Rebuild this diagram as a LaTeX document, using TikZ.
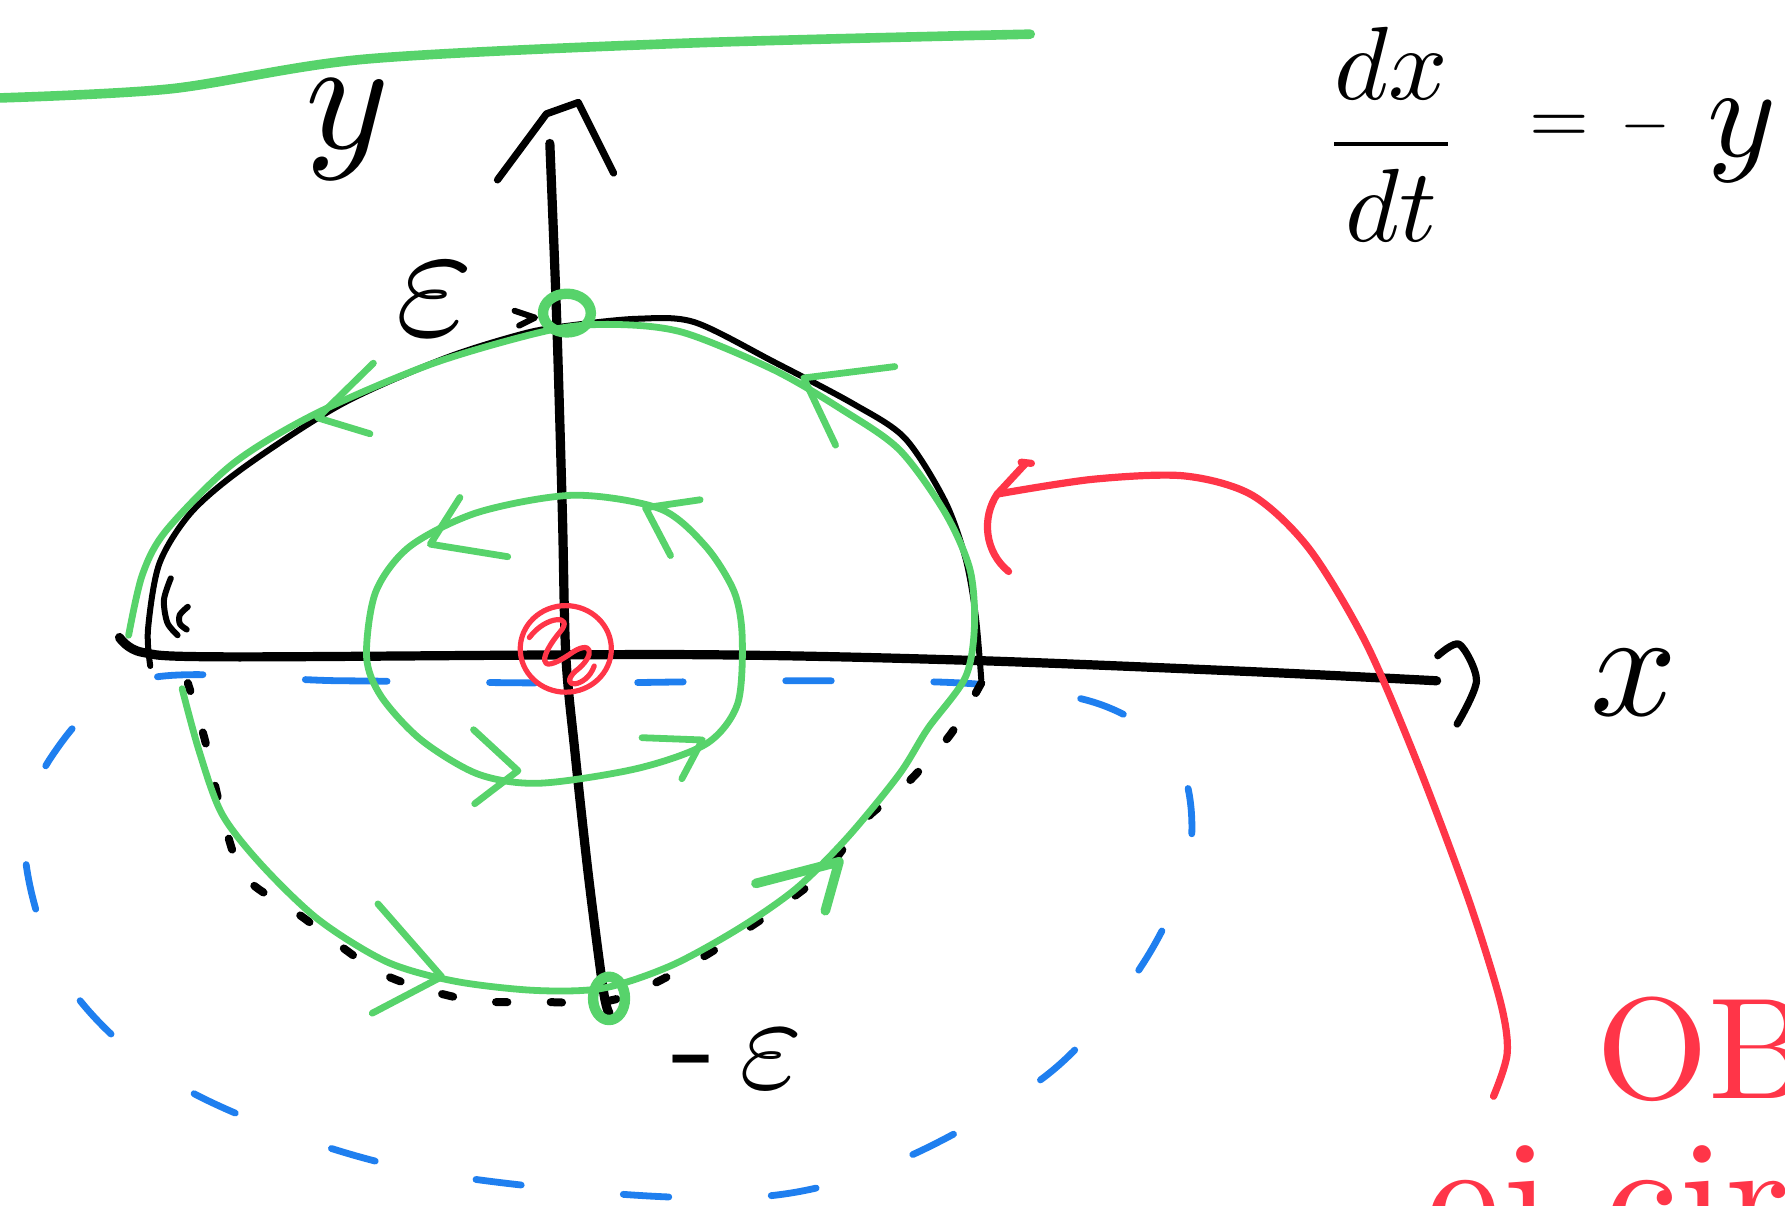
\documentclass[tikz,border=0pt]{standalone}
\usepackage{tikz}
\usetikzlibrary{arrows.meta,positioning}
\definecolor{InkGreen}{HTML}{57D36B}
\definecolor{InkRed}{HTML}{FF3548}
\definecolor{InkBlue}{HTML}{1F7FEF}

\begin{document}
\begin{tikzpicture}[x=0.01cm,y=-0.01cm,
  axisline/.style={line width=2.3pt,line cap=round,line join=round},
  blackink/.style={line width=1.5pt,line cap=round,line join=round},
  greenink/.style={draw=InkGreen,line width=1.7pt,line cap=round,line join=round},
  redink/.style={draw=InkRed,line width=1.8pt,line cap=round,line join=round},
  blueink/.style={draw=InkBlue,line width=1.7pt,line cap=round,dash pattern=on 0.4cm off 0.9cm},
  dotink/.style={line width=2pt,line cap=round,dash pattern=on 0.1cm off 0.38cm},
  handtext/.style={inner sep=0pt,scale=4},
  notetext/.style={inner sep=0pt,text=InkRed,scale=3.6}
]
\useasboundingbox (0,0) rectangle (1568,1059);
\clip (0,0) rectangle (1568,1059);

% green line on top
\draw[greenink,line width=2.4pt] plot[smooth] coordinates {(0,86) (150,78) (320,52) (600,38) (905,30)};

% blue dashed region
\draw[blueink] plot[smooth cycle,tension=0.55] coordinates {(125,597) (300,598) (500,600) (700,598) (860,601) (970,620) (1035,668) (1045,752) (1005,845) (925,940) (800,1015) (680,1050) (520,1047) (330,1020) (160,955) (60,865) (22,750) (45,665)};

% axes
\draw[axisline] plot[smooth] coordinates {(105,560) (125,573) (200,577) (600,575) (850,580) (1100,590) (1262,598)};
\draw[blackink,line width=1.8pt] plot[smooth] coordinates {(1263,576) (1282,566) (1297,598) (1280,636)};
\draw[axisline] plot[smooth] coordinates {(483,126) (489,280) (494,450) (497,575) (505,660) (517,770) (530,870) (535,890)};
\draw[blackink,line width=1.8pt] (437,158) -- (480,100) -- (508,90) -- (539,152);

% black level curve
\draw[blackink] plot[smooth] coordinates {(132,585) (130,553) (140,495) (168,450) (215,410) (300,355) (390,315) (460,293) (500,286) (560,280) (610,283) (680,318) (750,355) (795,385) (830,440) (848,490) (857,540) (862,597)};
\draw[dotink] plot[smooth] coordinates {(862,600) (835,645) (795,690) (760,720) (725,765) (680,800) (610,845) (540,878) (470,880) (410,878) (335,855) (265,805) (215,770) (195,715) (180,650) (165,600)};
\draw[blackink] plot[smooth] coordinates {(150,508) (144,527) (147,547) (156,558)};
\draw[blackink] plot[smooth] coordinates {(165,533) (158,540) (158,548) (164,553)};
\draw[blackink] (452,273) -- (470,279) -- (456,286);

% green orbits
\draw[greenink] plot[smooth] coordinates {(113,558) (125,505) (146,466) (205,407) (278,363) (381,319) (483,290) (540,285) (600,292) (680,325) (740,360) (790,395) (830,450) (852,500) (856,550) (848,595) (815,640) (790,680) (745,735) (700,780) (650,815) (590,848) (530,868) (470,870) (400,862) (340,845) (280,808) (230,760) (195,715) (175,660) (160,605)};
\draw[greenink] plot[smooth cycle] coordinates {(504,435) (580,447) (620,480) (645,520) (652,560) (648,618) (621,653) (560,675) (474,688) (420,680) (370,650) (335,612) (322,577) (330,520) (360,480) (420,450)};
\draw[greenink] (328,319) -- (279,367) -- (325,381);
\draw[greenink] (786,322) -- (706,332) -- (734,391);
\draw[greenink] (332,794) -- (388,858) -- (327,890);
\draw[greenink,line width=2.4pt] (664,776) -- (737,757) -- (725,800);
\draw[greenink] (404,437) -- (378,478) -- (446,489);
\draw[greenink] (615,439) -- (567,446) -- (589,488);
\draw[greenink] (416,641) -- (455,677) -- (417,706);
\draw[greenink] (564,648) -- (617,650) -- (599,684);
\draw[greenink,line width=2.6pt] (498,275) ellipse [x radius=0.21cm,y radius=0.17cm];
\draw[greenink,line width=2.6pt] (535,877) ellipse [x radius=0.14cm,y radius=0.19cm];

% red equilibrium
\draw[redink,line width=1.3pt] (497,570) ellipse [x radius=0.40cm,y radius=0.38cm];
\draw[redink,line width=1.3pt] (465,560) .. controls (480,540) and (505,540) .. (492,555) .. controls (475,575) and (470,595) .. (500,575) .. controls (520,560) and (525,575) .. (505,590) .. controls (490,605) and (515,605) .. (522,585);

% labels
\node[handtext] (lblY) at (305,114) {$y$};
\node[handtext,scale=1.05] (lblEps) at (382,263) {$\varepsilon$};
\node[handtext,scale=0.85] (lblMinusEps) at (648,930) {-\,$\varepsilon$};
\node[handtext,scale=0.95] (lblX) at (1435,600) {$x$};
\node[handtext,scale=0.65] (eqFrac) at (1222,118) {$\displaystyle\frac{dx}{dt}$};
\node[handtext,scale=0.48] (eqEq) at (1370,114) {$=$};
\node[handtext,scale=0.4] (eqMinus) at (1445,111) {$-$};
\node[handtext,scale=0.82] (eqY) at (1530,124) {$y$};

% note
\coordinate (noteTip) at (876,434);
\draw[redink] (897,406) -- (906,407);
\draw[redink] (901,407) -- (noteTip) .. controls (862,455) and (865,485) .. (886,502);
\draw[redink] plot[smooth] coordinates {(noteTip) (960,421) (1040,418) (1100,435) (1150,482) (1200,565) (1245,670) (1290,790) (1318,880) (1324,925) (1312,963)};
\node[notetext,anchor=base west] (noteObs) at (1400,965) {OBS};
\node[notetext,anchor=base west,scale=1.15] (noteCirc) at (1250,1102) {ej cirkel};
\end{tikzpicture}
\end{document}
